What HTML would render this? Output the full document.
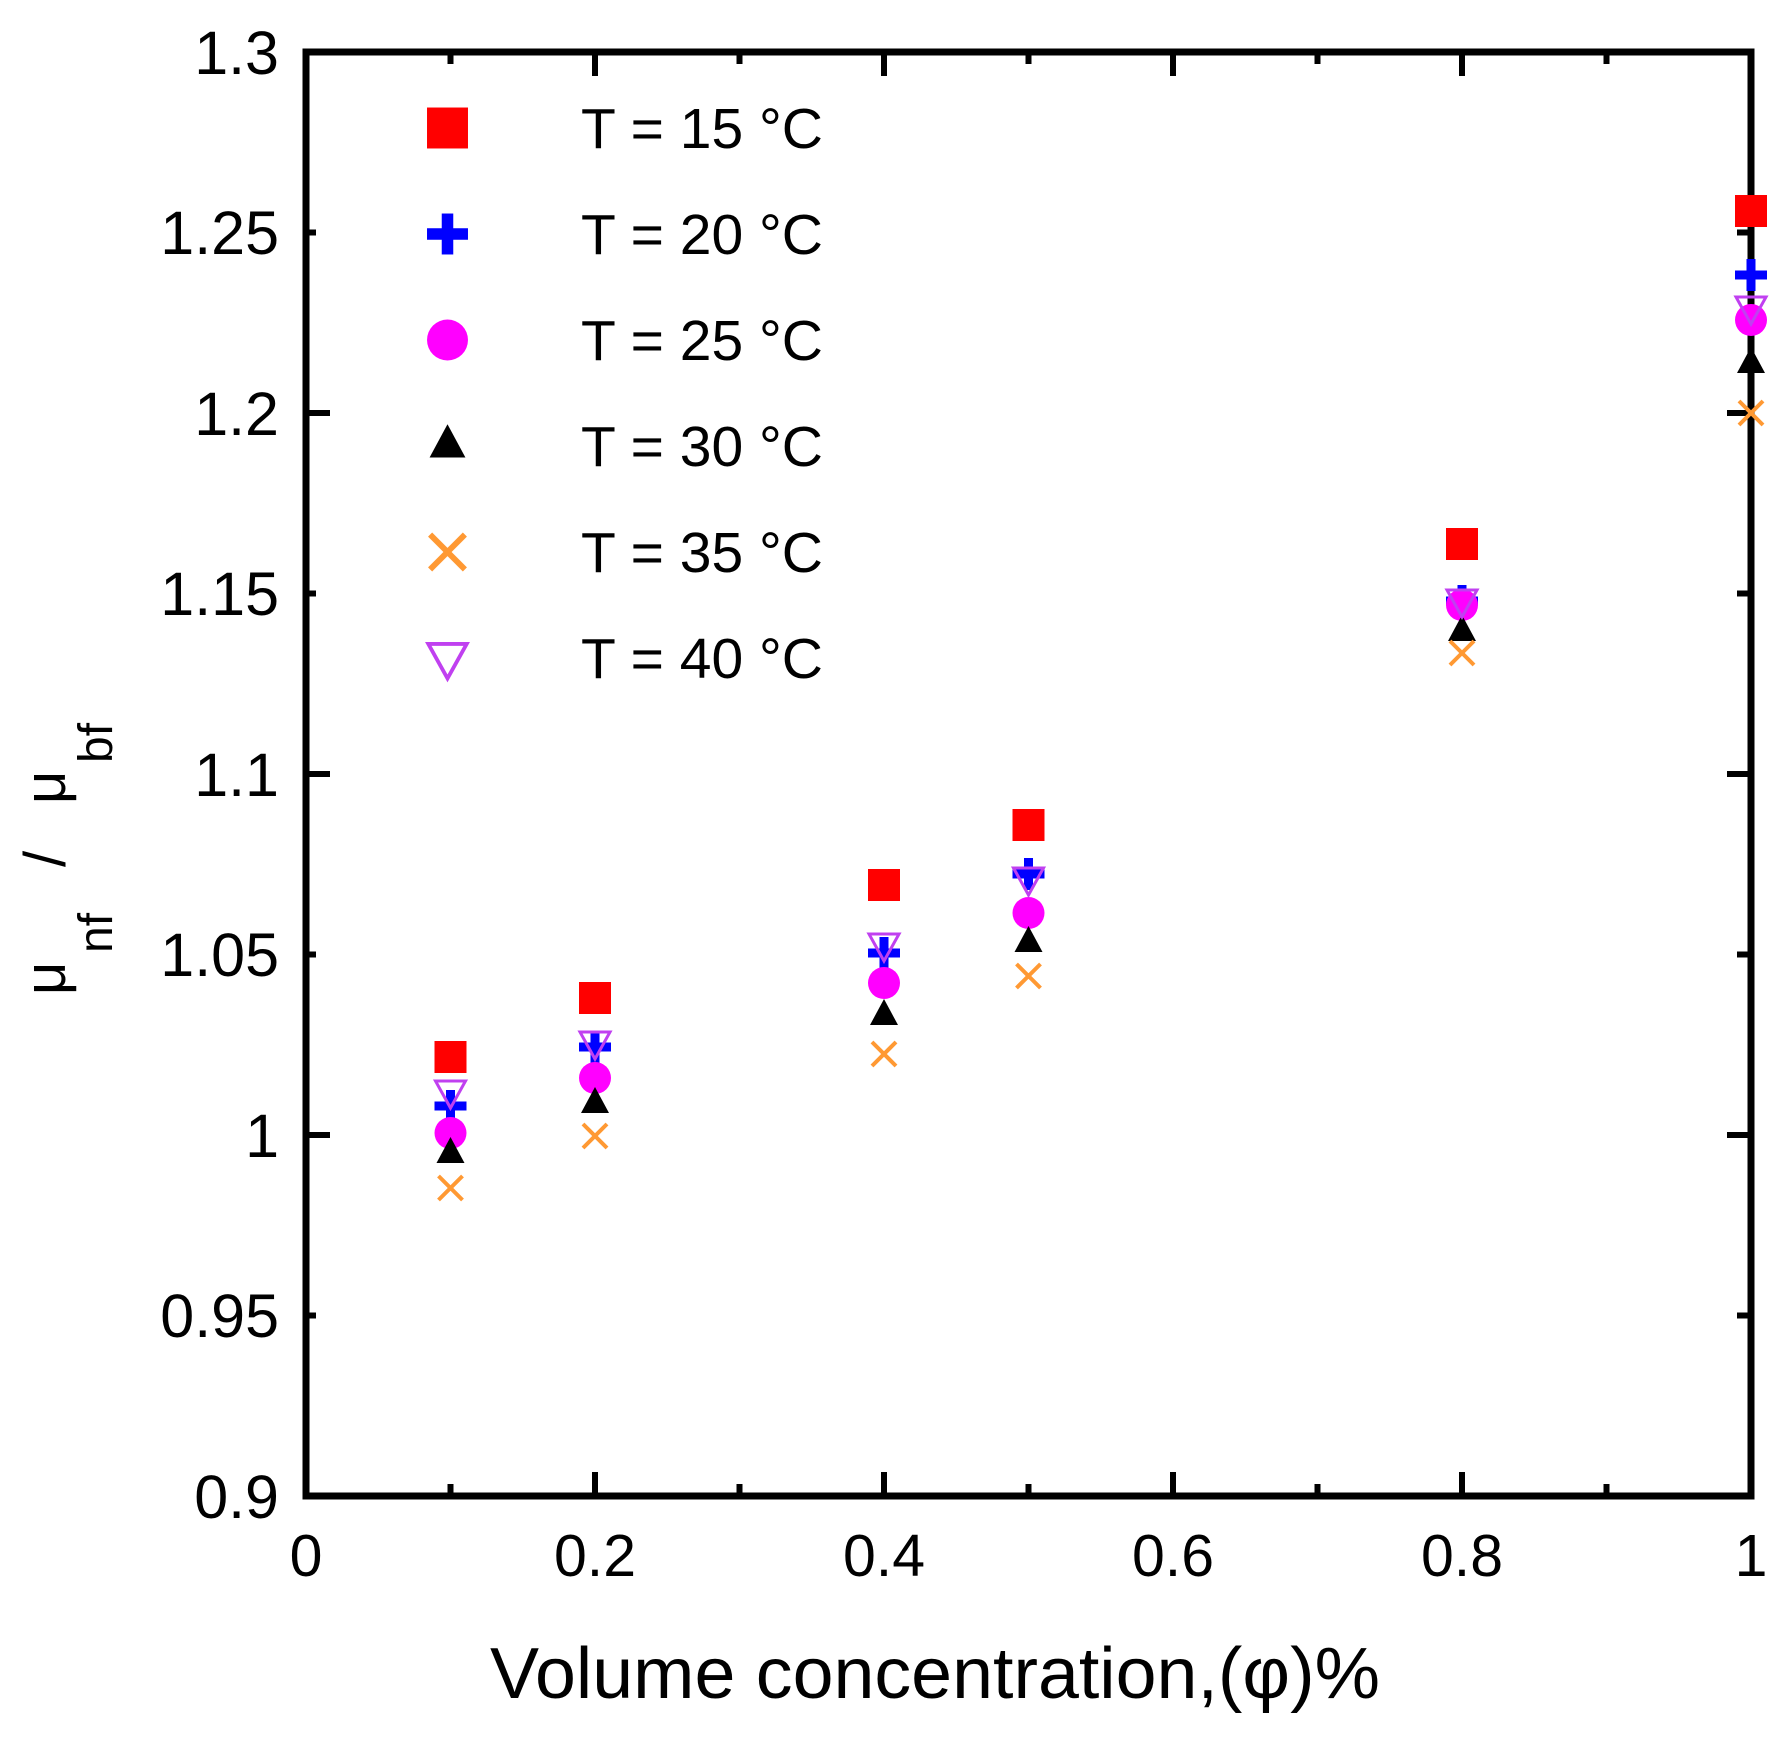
<!DOCTYPE html>
<html><head><meta charset="utf-8"><style>html,body{margin:0;padding:0;background:#fff;}svg{display:block;}</style></head>
<body>
<svg width="1789" height="1741" viewBox="0 0 1789 1741" xmlns="http://www.w3.org/2000/svg" font-family="'Liberation Sans', Arial, sans-serif">
<defs>
<g id="sq"><rect x="-16" y="-16" width="32" height="32" fill="#ff0000"/></g>
<g id="pl"><rect x="-16" y="-4.5" width="32" height="9" fill="#0000ff"/><rect x="-4.5" y="-16" width="9" height="32" fill="#0000ff"/></g>
<g id="ci"><circle r="16" fill="#ff00ff"/></g>
<g id="tr"><polygon points="0,-17 14,9 -14,9" fill="#000"/></g>
<g id="xx" stroke="#ff9933" stroke-width="4"><line x1="-12" y1="-12" x2="12" y2="12"/><line x1="-12" y1="12" x2="12" y2="-12"/></g>
<g id="nb"><polygon points="-15,-11 15,-11 0,16" fill="none" stroke="#c040f0" stroke-width="3"/></g>
</defs>
<rect x="306" y="52" width="1445" height="1444" fill="none" stroke="#000" stroke-width="7"/>
<g stroke="#000" stroke-width="6">
<line x1="595" y1="1496" x2="595" y2="1472"/><line x1="884" y1="1496" x2="884" y2="1472"/><line x1="1173" y1="1496" x2="1173" y2="1472"/><line x1="1462" y1="1496" x2="1462" y2="1472"/>
<line x1="450.5" y1="1496" x2="450.5" y2="1484"/><line x1="739.5" y1="1496" x2="739.5" y2="1484"/><line x1="1028.5" y1="1496" x2="1028.5" y2="1484"/><line x1="1317.5" y1="1496" x2="1317.5" y2="1484"/><line x1="1606.5" y1="1496" x2="1606.5" y2="1484"/>
<line x1="595" y1="52" x2="595" y2="76"/><line x1="884" y1="52" x2="884" y2="76"/><line x1="1173" y1="52" x2="1173" y2="76"/><line x1="1462" y1="52" x2="1462" y2="76"/>
<line x1="450.5" y1="52" x2="450.5" y2="64"/><line x1="739.5" y1="52" x2="739.5" y2="64"/><line x1="1028.5" y1="52" x2="1028.5" y2="64"/><line x1="1317.5" y1="52" x2="1317.5" y2="64"/><line x1="1606.5" y1="52" x2="1606.5" y2="64"/>
<line x1="306" y1="413" x2="330" y2="413"/><line x1="306" y1="774" x2="330" y2="774"/><line x1="306" y1="1135" x2="330" y2="1135"/>
<line x1="306" y1="232.5" x2="316" y2="232.5"/><line x1="306" y1="593.5" x2="316" y2="593.5"/><line x1="306" y1="954.5" x2="316" y2="954.5"/><line x1="306" y1="1315.5" x2="316" y2="1315.5"/>
<line x1="1751" y1="413" x2="1727" y2="413"/><line x1="1751" y1="774" x2="1727" y2="774"/><line x1="1751" y1="1135" x2="1727" y2="1135"/>
<line x1="1751" y1="232.5" x2="1737" y2="232.5"/><line x1="1751" y1="593.5" x2="1737" y2="593.5"/><line x1="1751" y1="954.5" x2="1737" y2="954.5"/><line x1="1751" y1="1315.5" x2="1737" y2="1315.5"/>
</g>
<g font-size="61" text-anchor="end" fill="#000">
<text x="279" y="74">1.3</text><text x="279" y="254">1.25</text><text x="279" y="435">1.2</text><text x="279" y="615">1.15</text>
<text x="279" y="796">1.1</text><text x="279" y="976">1.05</text><text x="279" y="1157">1</text><text x="279" y="1337">0.95</text><text x="279" y="1518">0.9</text>
</g>
<g font-size="59" text-anchor="middle" fill="#000">
<text x="306" y="1576">0</text><text x="595" y="1576">0.2</text><text x="884" y="1576">0.4</text><text x="1173" y="1576">0.6</text><text x="1462" y="1576">0.8</text><text x="1751" y="1576">1</text>
</g>
<text x="490" y="1698" font-size="72" fill="#000" textLength="890" lengthAdjust="spacingAndGlyphs">Volume concentration,(φ)%</text>
<g fill="#000">
<text transform="translate(65,995) rotate(-90)" font-size="58">μ</text>
<text transform="translate(112,953) rotate(-90)" font-size="48">nf</text>
<text transform="translate(65,867) rotate(-90)" font-size="58">/</text>
<text transform="translate(65,804) rotate(-90)" font-size="58">μ</text>
<text transform="translate(112,763) rotate(-90)" font-size="48">bf</text>
</g>
<g transform="translate(447.5,128) scale(1.28)"><use href="#sq"/></g>
<g transform="translate(447.5,234) scale(1.28)"><use href="#pl"/></g>
<g transform="translate(447.5,340) scale(1.28)"><use href="#ci"/></g>
<g transform="translate(447.5,446) scale(1.28)"><use href="#tr"/></g>
<g transform="translate(447.5,552) scale(1.45)"><use href="#xx"/></g>
<g transform="translate(447.5,658) scale(1.28)"><use href="#nb"/></g>
<g font-size="57" fill="#000">
<text x="581" y="148">T = 15 °C</text><text x="581" y="254">T = 20 °C</text><text x="581" y="360">T = 25 °C</text>
<text x="581" y="466">T = 30 °C</text><text x="581" y="572">T = 35 °C</text><text x="581" y="678">T = 40 °C</text>
</g>
<use href="#sq" x="450.5" y="1057"/><use href="#sq" x="595" y="998"/><use href="#sq" x="884" y="885"/><use href="#sq" x="1028.5" y="825"/><use href="#sq" x="1462" y="544"/><use href="#sq" x="1751" y="211"/>
<use href="#pl" x="450.5" y="1106"/><use href="#pl" x="595" y="1047"/><use href="#pl" x="884" y="953"/><use href="#pl" x="1028.5" y="874"/><use href="#pl" x="1462" y="601"/><use href="#pl" x="1751" y="275"/>
<use href="#ci" x="450.5" y="1133"/><use href="#ci" x="595" y="1078"/><use href="#ci" x="884" y="983"/><use href="#ci" x="1028.5" y="913"/><use href="#ci" x="1462" y="605"/><use href="#ci" x="1751" y="320"/>
<use href="#tr" x="450.5" y="1154"/><use href="#tr" x="595" y="1104"/><use href="#tr" x="884" y="1016"/><use href="#tr" x="1028.5" y="943"/><use href="#tr" x="1462" y="632"/><use href="#tr" x="1751" y="364"/>
<use href="#xx" x="450.5" y="1188"/><use href="#xx" x="595" y="1136"/><use href="#xx" x="884" y="1054"/><use href="#xx" x="1028.5" y="976"/><use href="#xx" x="1462" y="653"/><use href="#xx" x="1751" y="413"/>
<use href="#nb" x="450.5" y="1092"/><use href="#nb" x="595" y="1043"/><use href="#nb" x="884" y="945"/><use href="#nb" x="1028.5" y="879"/><use href="#nb" x="1462" y="601"/><use href="#nb" x="1751" y="308"/>
</svg>
</body></html>
